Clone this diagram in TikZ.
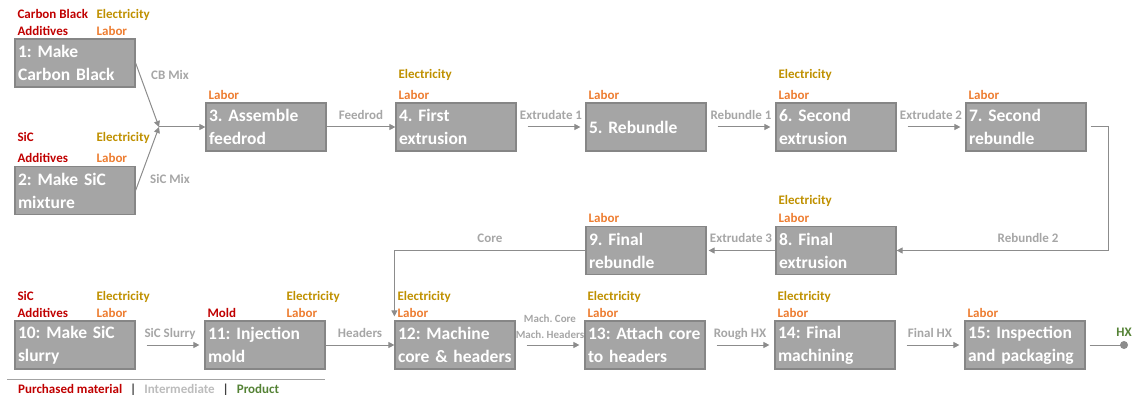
\documentclass[tikz,border=0pt]{standalone}
\usepackage{fontspec}
\setmainfont{Carlito}
\usetikzlibrary{positioning,arrows.meta}

\definecolor{boxfill}{HTML}{A5A5A5}
\definecolor{boxline}{HTML}{868686}
\definecolor{purchased}{HTML}{C00000}
\definecolor{electric}{HTML}{BF9000}
\definecolor{labor}{HTML}{ED7D31}
\definecolor{interm}{HTML}{A6A6A6}
\definecolor{product}{HTML}{548235}
\definecolor{flowline}{HTML}{8C8C8C}

\tikzset{
  stepbox/.style={draw=boxline, line width=1.2pt, fill=boxfill, text=white,
    minimum width=120pt, minimum height=48pt, text width=114pt, inner sep=3pt,
    align=left, font=\frenchspacing\bfseries\fontsize{17.5}{23}\selectfont},
  tag/.style={inner sep=0pt, text height=10pt, text depth=3pt,
    font=\frenchspacing\bfseries\fontsize{13}{15}\selectfont},
  mat/.style={tag, text=purchased},
  elec/.style={tag, text=electric},
  lab/.style={tag, text=labor},
  flow/.style={draw=flowline, line width=1pt, -{Triangle[length=6pt,width=6pt]},
    shorten <=11pt, shorten >=5pt},
  flowlabel/.style={tag, text=interm},
  machlabel/.style={inner sep=0pt, text height=8pt, text depth=2.5pt, text=interm,
    font=\frenchspacing\bfseries\fontsize{11}{13}\selectfont},
}

\begin{document}
\begin{tikzpicture}[x=1pt, y=-1pt, node distance=190pt]
        \useasboundingbox (0,0) rectangle (1139,395);

        % Nodes
        \node (b1) [stepbox] at (75,63) {1: Make\\Carbon Black};
        \node (b2) [stepbox] at (75,190.5) {2: Make SiC\\mixture};
        \node (b3) [stepbox] at (266,127) {3. Assemble\\feedrod};
        \node (b4) [stepbox, right of=b3] {4. First\\extrusion};
        \node (b5) [stepbox, right of=b4] {5. Rebundle};
        \node (b6) [stepbox, right of=b5] {6. Second\\extrusion};
        \node (b7) [stepbox, right of=b6] {7. Second\\rebundle};
        \node (b8) [stepbox, below of=b6, node distance=123.5pt] {8. Final\\extrusion};
        \node (b9) [stepbox, left of=b8] {9. Final\\rebundle};
        \node (b10) [stepbox] at (75,345) {10: Make SiC\\slurry};
        \node (b11) [stepbox, right of=b10] {11: Injection\\mold};
        \node (b12) [stepbox, right of=b11] {12: Machine\\core \& headers};
        \node (b13) [stepbox, right of=b12] {13: Attach core\\to headers};
        \node (b14) [stepbox, right of=b13] {14: Final\\machining};
        \node (b15) [stepbox, right of=b14] {15: Inspection\\and packaging};

        % Inputs
        \node (m1b) [mat, above right=0pt and 3pt of b1.north west] {Additives};
        \node (m1a) [mat, above=3pt of m1b.north west, anchor=south west] {Carbon Black};
        \node (l1) [lab, above right=0pt and 82pt of b1.north west] {Labor};
        \node (e1) [elec, above=3pt of l1.north west, anchor=south west] {Electricity};

        \node (m2b) [mat, above right=0pt and 3pt of b2.north west] {Additives};
        \node (m2a) [mat, above=8pt of m2b.north west, anchor=south west] {SiC};
        \node (l2) [lab, above right=0pt and 82pt of b2.north west] {Labor};
        \node (e2) [elec, above=8pt of l2.north west, anchor=south west] {Electricity};

        \node (l3) [lab, above right=0pt and 3pt of b3.north west] {Labor};
        \node (l4) [lab, above right=0pt and 3pt of b4.north west] {Labor};
        \node (e4) [elec, above=7pt of l4.north west, anchor=south west] {Electricity};
        \node (l5) [lab, above right=0pt and 3pt of b5.north west] {Labor};
        \node (l6) [lab, above right=0pt and 3pt of b6.north west] {Labor};
        \node (e6) [elec, above=7pt of l6.north west, anchor=south west] {Electricity};
        \node (l7) [lab, above right=0pt and 3pt of b7.north west] {Labor};
        \node (l8) [lab, above right=0pt and 3pt of b8.north west] {Labor};
        \node (e8) [elec, above=5pt of l8.north west, anchor=south west] {Electricity};
        \node (l9) [lab, above right=0pt and 3pt of b9.north west] {Labor};

        \node (m10b) [mat, above right=0pt and 3pt of b10.north west] {Additives};
        \node (m10a) [mat, above=3pt of m10b.north west, anchor=south west] {SiC};
        \node (l10) [lab, above right=0pt and 82pt of b10.north west] {Labor};
        \node (e10) [elec, above=3pt of l10.north west, anchor=south west] {Electricity};

        \node (m11) [mat, above right=0pt and 3pt of b11.north west] {Mold};
        \node (l11) [lab, above right=0pt and 82pt of b11.north west] {Labor};
        \node (e11) [elec, above=3pt of l11.north west, anchor=south west] {Electricity};

        \node (l12) [lab, above right=0pt and 3pt of b12.north west] {Labor};
        \node (e12) [elec, above=3pt of l12.north west, anchor=south west] {Electricity};
        \node (l13) [lab, above right=0pt and 3pt of b13.north west] {Labor};
        \node (e13) [elec, above=3pt of l13.north west, anchor=south west] {Electricity};
        \node (l14) [lab, above right=0pt and 3pt of b14.north west] {Labor};
        \node (e14) [elec, above=3pt of l14.north west, anchor=south west] {Electricity};
        \node (l15) [lab, above right=0pt and 3pt of b15.north west] {Labor};

        % Arrows
        \coordinate (mix) at (159,127);
        \draw[flow, shorten <=0pt, shorten >=0pt] (b1.east) -- (mix);
        \draw[flow, shorten <=0pt, shorten >=0pt] (b2.east) -- (mix);
        \node (cbmix) [flowlabel] at (170,76) {CB Mix};
        \node (sicmix) [flowlabel] at (170,180) {SiC Mix};
        \draw[flow, shorten <=0pt, shorten >=0pt] (mix) -- (b3);

        \draw[flow, shorten <=0pt, shorten >=0pt] (b3) -- node (feedrod) [flowlabel, above=4pt] {Feedrod} (b4);
        \draw[flow] (b4) -- node (ex1) [flowlabel, above=4pt] {Extrudate 1} (b5);
        \draw[flow] (b5) -- node (rb1) [flowlabel, above=4pt] {Rebundle 1} (b6);
        \draw[flow] (b6) -- node (ex2) [flowlabel, above=4pt] {Extrudate 2} (b7);
        \draw[flow, shorten <=4pt, shorten >=0pt] (b7.east) -- ++(22,0)
            |- node (rb2) [flowlabel, pos=0.69, above=4pt] {Rebundle 2} (b8.east);
        \draw[flow, shorten <=0pt, shorten >=2pt] (b8) -- node (ex3) [flowlabel, above=4pt] {Extrudate 3} (b9);
        \draw[flow, shorten <=0pt, shorten >=4pt] (b9.west) -| node (core) [flowlabel, pos=0.25, above=4pt] {Core} (b12.north west);

        \draw[flow] (b10) -- node (slurry) [flowlabel, above=4pt] {SiC Slurry} (b11);
        \draw[flow, shorten <=0pt, shorten >=0pt] (b11) -- node (headers) [flowlabel, above=4pt] {Headers} (b12);
        \draw[flow] (b12) -- node (mh) [machlabel, above=4pt] {Mach. Headers} (b13);
        \node (mc) [machlabel, above=4pt of mh] {Mach. Core};
        \draw[flow] (b13) -- node (rough) [flowlabel, above=4pt] {Rough HX} (b14);
        \draw[flow] (b14) -- node (final) [flowlabel, above=4pt] {Final HX} (b15);

        % Product
        \coordinate (hx) at (1124,345);
        \draw[draw=flowline, line width=1pt, shorten <=4pt] (b15.east) -- (hx);
        \fill[flowline] (hx) circle (4pt);
        \node (hxlabel) [tag, text=product, above=5pt of hx] {HX};

        % Legend
        \coordinate (legl) at (7,379);
        \coordinate (legr) at (325,379);
        \draw[draw=flowline!80, line width=1pt] (legl) -- (legr);
        \node (legend) [tag, anchor=west] at (18,390)
            {\textcolor{purchased}{Purchased material}\hspace{8pt}\textcolor{black!75}{|}\hspace{8pt}\textcolor{interm!75}{Intermediate}\hspace{8pt}\textcolor{black!75}{|}\hspace{8pt}\textcolor{product}{Product}};
\end{tikzpicture}
\end{document}
